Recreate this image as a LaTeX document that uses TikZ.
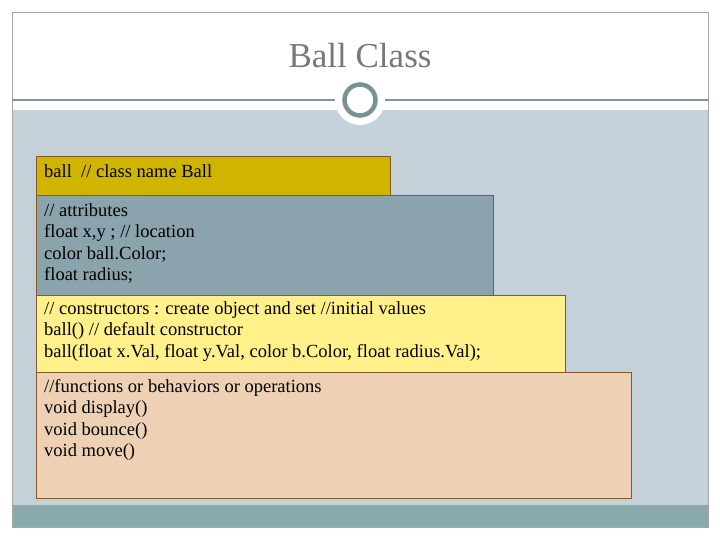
\documentclass[tikz,border=0pt]{standalone}
\usepackage{fontspec}
\setmainfont{Liberation Serif}
\begin{document}
\begin{tikzpicture}[x=1pt,y=-1pt,
  box/.style={draw=brown!70!black,line width=0.6pt},
  txt/.style={anchor=north west,align=left,inner sep=0pt,font=\fontsize{18.5}{21.5}\selectfont}]
\useasboundingbox (0,0) rectangle (720,540);
\fill[white] (0,0) rectangle (720,540);
\fill[white] (12,12) rectangle (708,527);
\fill[fill={rgb,255:red,197;green,209;blue,216}] (12,110) rectangle (708,505);
\fill[fill={rgb,255:red,138;green,169;blue,173}] (12,505) rectangle (708,527);
\draw[gray!70,line width=0.6pt] (12,12) rectangle (708,527);
\draw[fill={rgb,255:red,128;green,149;blue,153},line width=1.2pt,draw={rgb,255:red,128;green,149;blue,153}] (12,100) -- (708,100);
\fill[white] (360,100) circle (25);
\draw[draw={rgb,255:red,122;green,145;blue,148},line width=4.5pt] (360,100) circle (15.5);
\node[font=\fontsize{35}{40}\selectfont,text={rgb,255:red,120;green,120;blue,120}] (title) at (360,56) {Ball Class};
\node[box,fill={rgb,255:red,207;green,180;blue,0},minimum width=354,minimum height=39,anchor=north west] (b1) at (36,156) {};
\node[box,fill={rgb,255:red,138;green,163;blue,173},minimum width=457,minimum height=100,anchor=north west] (b2) at (36,195) {};
\node[box,fill={rgb,255:red,255;green,240;blue,138},minimum width=529,minimum height=77,anchor=north west] (b3) at (36,295) {};
\node[box,fill={rgb,255:red,238;green,209;blue,180},minimum width=595,minimum height=126,anchor=north west] (b4) at (36,372) {};
\node[txt] (t1) at (44,164) {ball~ // class name Ball};
\node[txt] (t2) at (44,203) {// attributes\\float x,y ; // location\\color ball.Color;\\float radius;};
\node[txt] (t3) at (44,301) {// constructors : create object and set //initial values\\ball() // default constructor\\ball(float x.Val, float y.Val, color b.Color, float radius.Val);};
\node[txt] (t4) at (44,379) {//functions or behaviors or operations\\void display()\\void bounce()\\void move()};
\end{tikzpicture}
\end{document}
